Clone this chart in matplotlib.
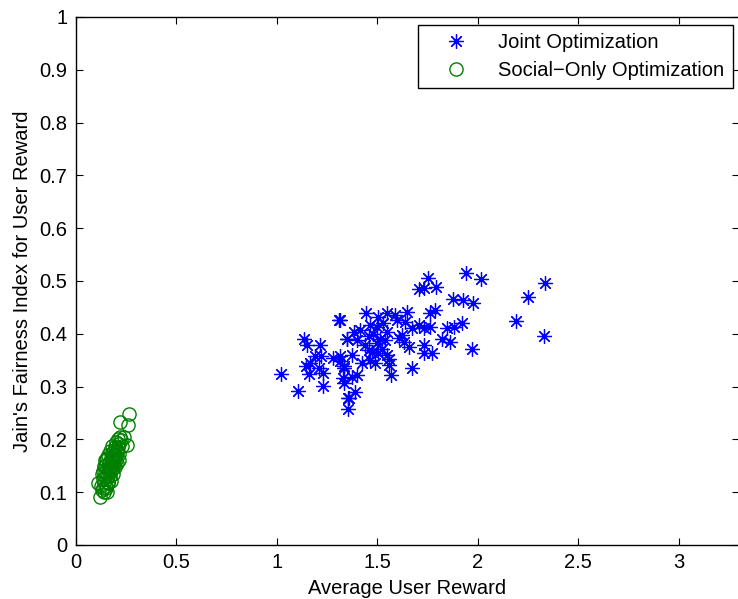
import matplotlib.pyplot as plt

plt.rcParams['font.family'] = ['Liberation Sans', 'DejaVu Sans']
plt.rcParams['font.size'] = 14.5

# joint optimization results: average user reward vs fairness index
joint_reward = [1.020, 1.108, 1.133, 1.150, 1.216, 1.191, 1.219, 1.166, 1.143, 1.158,
                1.208, 1.228, 1.228, 1.316, 1.279, 1.316, 1.316, 1.332, 1.329, 1.332,
                1.349, 1.352, 1.352, 1.390, 1.374, 1.399, 1.332, 1.374, 1.424, 1.349,
                1.382, 1.415, 1.399, 1.445, 1.465, 1.498, 1.506, 1.548, 1.589, 1.648,
                1.598, 1.639, 1.457, 1.515, 1.540, 1.498, 1.457, 1.473, 1.506, 1.548,
                1.465, 1.556, 1.490, 1.556, 1.568, 1.548, 1.623, 1.631, 1.656, 1.672,
                1.672, 1.705, 1.730, 1.764, 1.730, 1.730, 1.772, 1.764, 1.789, 1.705,
                1.730, 1.750, 1.793, 1.822, 1.863, 1.847, 1.880, 1.921, 1.876, 1.926,
                1.976, 1.943, 1.971, 2.016, 2.333, 2.248, 2.190, 2.330, 1.357, 1.312,
                1.480, 1.525, 1.610, 1.530, 1.440]
joint_fairness = [0.323, 0.292, 0.391, 0.379, 0.378, 0.358, 0.358, 0.345, 0.339, 0.324,
                  0.335, 0.326, 0.301, 0.427, 0.354, 0.357, 0.348, 0.335, 0.316, 0.306,
                  0.391, 0.278, 0.257, 0.289, 0.319, 0.322, 0.338, 0.360, 0.344, 0.390,
                  0.404, 0.407, 0.388, 0.440, 0.417, 0.413, 0.432, 0.440, 0.436, 0.442,
                  0.427, 0.423, 0.395, 0.391, 0.388, 0.383, 0.369, 0.366, 0.363, 0.360,
                  0.350, 0.352, 0.344, 0.341, 0.322, 0.404, 0.398, 0.385, 0.374, 0.336,
                  0.410, 0.417, 0.410, 0.413, 0.379, 0.363, 0.364, 0.439, 0.445, 0.484,
                  0.486, 0.505, 0.488, 0.391, 0.385, 0.410, 0.412, 0.420, 0.466, 0.463,
                  0.458, 0.515, 0.371, 0.503, 0.497, 0.470, 0.424, 0.395, 0.279, 0.426,
                  0.400, 0.372, 0.392, 0.420, 0.378]

# social-only optimization results
social_reward = [0.267, 0.221, 0.262, 0.254, 0.121, 0.113, 0.130, 0.140, 0.135, 0.150,
                 0.145, 0.160, 0.155, 0.170, 0.165, 0.175, 0.180, 0.185, 0.190, 0.195,
                 0.200, 0.205, 0.210, 0.215, 0.220, 0.225, 0.140, 0.150, 0.160, 0.170,
                 0.180, 0.190, 0.200, 0.210, 0.148, 0.158, 0.168, 0.178, 0.188, 0.198,
                 0.130, 0.143, 0.153, 0.163, 0.173, 0.183, 0.193, 0.203, 0.213, 0.125,
                 0.135, 0.145, 0.155, 0.165, 0.175, 0.185, 0.195, 0.205, 0.158, 0.172,
                 0.187, 0.215, 0.228, 0.240, 0.138, 0.162, 0.176, 0.192, 0.146, 0.182]
social_fairness = [0.248, 0.232, 0.227, 0.189, 0.091, 0.118, 0.105, 0.100, 0.125, 0.112,
                   0.138, 0.120, 0.145, 0.130, 0.155, 0.140, 0.150, 0.162, 0.158, 0.172,
                   0.168, 0.180, 0.185, 0.192, 0.205, 0.198, 0.150, 0.160, 0.170, 0.178,
                   0.188, 0.180, 0.195, 0.200, 0.128, 0.135, 0.145, 0.160, 0.170, 0.160,
                   0.135, 0.118, 0.108, 0.118, 0.122, 0.135, 0.148, 0.155, 0.172, 0.112,
                   0.140, 0.150, 0.165, 0.140, 0.165, 0.145, 0.185, 0.175, 0.100, 0.145,
                   0.152, 0.160, 0.188, 0.205, 0.108, 0.130, 0.150, 0.165, 0.160, 0.175]

fig = plt.figure(figsize=(7.38, 5.99), dpi=100)
ax = fig.add_axes([0.1026, 0.0902, 0.8990, 0.8815])

ax.plot(joint_reward, joint_fairness, linestyle='none', marker=(8, 2, 0),
        markersize=10.5, markeredgewidth=0.9, color='#0000ff', label='Joint Optimization')
ax.plot(social_reward, social_fairness, linestyle='none', marker='o',
        markersize=9.5, markeredgewidth=1.0, markerfacecolor='none',
        markeredgecolor='#008000', label='Social\u2212Only Optimization')

ax.set_xlim(0, 3.3)
ax.set_ylim(0, 1)
ax.set_xticks([0, 0.5, 1, 1.5, 2, 2.5, 3])
ax.set_xticklabels(['0', '0.5', '1', '1.5', '2', '2.5', '3'])
ax.set_yticks([i / 10 for i in range(11)])
ax.set_yticklabels(['0', '0.1', '0.2', '0.3', '0.4', '0.5', '0.6', '0.7', '0.8', '0.9', '1'])
ax.tick_params(direction='in', length=5, width=0.8, top=True, right=True, pad=6)
for s in ax.spines.values():
    s.set_linewidth(1.0)

ax.set_xlabel('Average User Reward', labelpad=5)
ax.set_ylabel("Jain's Fairness Index for User Reward", labelpad=5)

leg = ax.legend(loc='upper right', bbox_to_anchor=(0.99, 0.985), borderaxespad=0,
                fancybox=False, edgecolor='black', framealpha=1, handlelength=3.0,
                handletextpad=0.6, borderpad=0.4, labelspacing=0.45)
leg.get_frame().set_linewidth(1.0)

fig.savefig('out.png', dpi=100)
